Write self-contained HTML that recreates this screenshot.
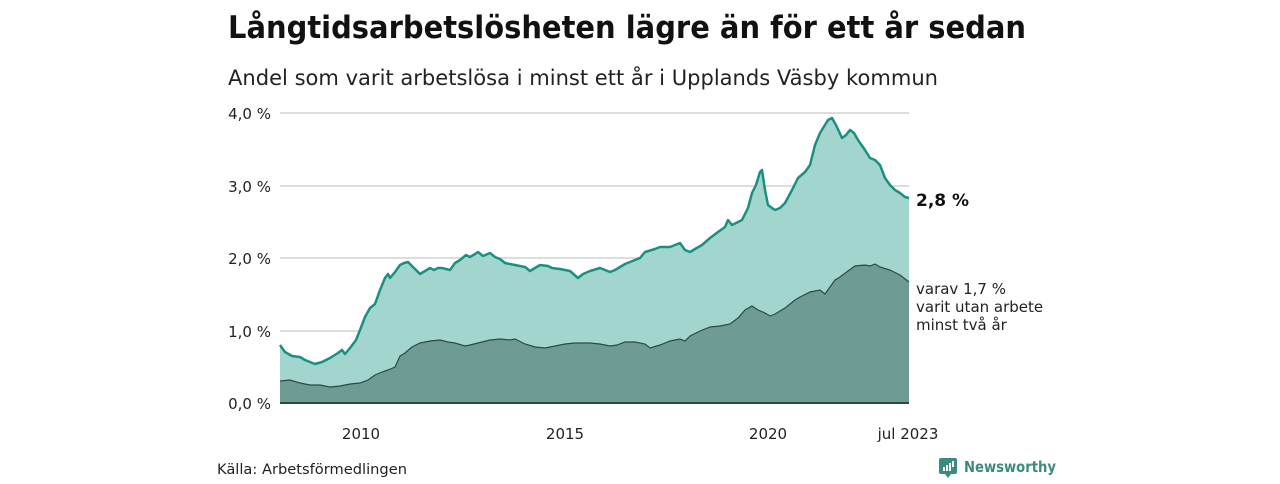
<!DOCTYPE html>
<html><head><meta charset="utf-8"><style>
body{margin:0;width:1280px;height:480px;background:#fff;font-family:"DejaVu Sans","Liberation Sans",sans-serif;overflow:hidden}
</style></head><body>
<svg width="1280" height="480" xmlns="http://www.w3.org/2000/svg" font-family="'DejaVu Sans','Liberation Sans',sans-serif">
<text x="228" y="38" font-size="31" font-weight="bold" fill="#111" textLength="798" lengthAdjust="spacingAndGlyphs">Långtidsarbetslösheten lägre än för ett år sedan</text>
<text x="228" y="85" font-size="21" fill="#222" textLength="710" lengthAdjust="spacingAndGlyphs">Andel som varit arbetslösa i minst ett år i Upplands Väsby kommun</text>
<g stroke="#ddd" stroke-width="2">
<line x1="280" x2="909" y1="113" y2="113"/><line x1="280" x2="909" y1="186" y2="186"/>
<line x1="280" x2="909" y1="258" y2="258"/><line x1="280" x2="909" y1="331" y2="331"/>
</g>
<g font-size="15" fill="#222" text-anchor="end">
<text x="271" y="119">4,0 %</text><text x="271" y="192">3,0 %</text><text x="271" y="264">2,0 %</text><text x="271" y="337">1,0 %</text><text x="271" y="409">0,0 %</text>
</g>
<polygon fill="#a3d5cf" points="280,403 280,345 285,352 292,356 300,357 305,360 315,364 322,362 330,358 338,353 342,350 345,354 350,348 356,340 360,330 365,317 370,308 375,304 380,290 385,278 388,274 390,278 395,272 400,265 404,263 408,262 412,266 416,270 420,274 425,271 430,268 434,270 438,268 442,268 450,270 455,263 460,260 466,255 470,257 475,254 478,252 483,256 490,253 495,257 500,259 505,263 515,265 525,267 530,271 535,268 540,265 548,266 552,268 560,269 570,271 578,278 583,274 590,271 600,268 610,272 615,270 625,264 635,260 640,258 645,252 655,249 660,247 670,247 680,243 685,250 690,252 695,249 702,245 710,238 718,232 725,227 728,220 732,225 738,222 742,220 748,208 752,193 756,185 760,172 762,170 765,190 768,205 772,208 775,210 780,208 785,203 792,190 798,178 805,172 810,165 815,145 820,133 828,120 832,118 836,125 842,138 846,135 850,130 854,133 858,140 865,150 870,158 875,160 880,165 885,178 890,185 895,190 900,193 905,197 909,198 909,403"/>
<polyline fill="none" stroke="#1a9080" stroke-width="2.5" stroke-linejoin="round" points="280,345 285,352 292,356 300,357 305,360 315,364 322,362 330,358 338,353 342,350 345,354 350,348 356,340 360,330 365,317 370,308 375,304 380,290 385,278 388,274 390,278 395,272 400,265 404,263 408,262 412,266 416,270 420,274 425,271 430,268 434,270 438,268 442,268 450,270 455,263 460,260 466,255 470,257 475,254 478,252 483,256 490,253 495,257 500,259 505,263 515,265 525,267 530,271 535,268 540,265 548,266 552,268 560,269 570,271 578,278 583,274 590,271 600,268 610,272 615,270 625,264 635,260 640,258 645,252 655,249 660,247 670,247 680,243 685,250 690,252 695,249 702,245 710,238 718,232 725,227 728,220 732,225 738,222 742,220 748,208 752,193 756,185 760,172 762,170 765,190 768,205 772,208 775,210 780,208 785,203 792,190 798,178 805,172 810,165 815,145 820,133 828,120 832,118 836,125 842,138 846,135 850,130 854,133 858,140 865,150 870,158 875,160 880,165 885,178 890,185 895,190 900,193 905,197 909,198"/>
<polygon fill="#6f9b95" points="280,403 280,381 290,380 300,383 310,385 320,385 330,387 340,386 350,384 360,383 368,380 375,375 382,372 388,370 395,367 400,356 405,353 412,347 420,343 430,341 440,340 448,342 455,343 465,346 470,345 490,340 500,339 510,340 515,339 525,344 535,347 545,348 555,346 565,344 575,343 580,343 590,343 600,344 610,346 617,345 625,342 635,342 645,344 650,348 660,345 670,341 680,339 685,341 690,336 700,331 710,327 720,326 730,324 738,318 745,310 752,306 758,310 765,313 770,316 775,314 785,308 795,300 800,297 810,292 820,290 825,294 835,280 840,277 848,271 855,266 865,265 870,266 875,264 880,267 890,270 900,275 909,282 909,403"/>
<polyline fill="none" stroke="#2b4a45" stroke-width="1.2" points="280,381 290,380 300,383 310,385 320,385 330,387 340,386 350,384 360,383 368,380 375,375 382,372 388,370 395,367 400,356 405,353 412,347 420,343 430,341 440,340 448,342 455,343 465,346 470,345 490,340 500,339 510,340 515,339 525,344 535,347 545,348 555,346 565,344 575,343 580,343 590,343 600,344 610,346 617,345 625,342 635,342 645,344 650,348 660,345 670,341 680,339 685,341 690,336 700,331 710,327 720,326 730,324 738,318 745,310 752,306 758,310 765,313 770,316 775,314 785,308 795,300 800,297 810,292 820,290 825,294 835,280 840,277 848,271 855,266 865,265 870,266 875,264 880,267 890,270 900,275 909,282"/>
<line x1="280" x2="909" y1="403" y2="403" stroke="#2b4a45" stroke-width="2"/>
<text x="916" y="206" font-size="17" font-weight="bold" fill="#111">2,8 %</text>
<g font-size="15" fill="#222"><text x="916" y="294">varav 1,7 %</text><text x="916" y="312">varit utan arbete</text><text x="916" y="330">minst två år</text></g>
<g font-size="15" fill="#222" text-anchor="middle"><text x="361" y="439">2010</text><text x="565" y="439">2015</text><text x="768" y="439">2020</text><text x="908" y="439">jul 2023</text></g>
<text x="217" y="474" font-size="14" fill="#222" textLength="190" lengthAdjust="spacingAndGlyphs">Källa: Arbetsförmedlingen</text>
<rect x="939" y="458" width="18" height="16" rx="2" fill="#3a8a7e"/>
<polygon points="945,474 951,474 948,478" fill="#3a8a7e"/>
<g fill="#fff"><rect x="943" y="467" width="2" height="4"/><rect x="946" y="465" width="2" height="6"/><rect x="949" y="463" width="2" height="8"/><rect x="952" y="461" width="2" height="6"/></g>
<text x="964" y="472" font-size="15" font-weight="bold" fill="#3a8a7e" textLength="92" lengthAdjust="spacingAndGlyphs">Newsworthy</text>
</svg>
</body></html>
